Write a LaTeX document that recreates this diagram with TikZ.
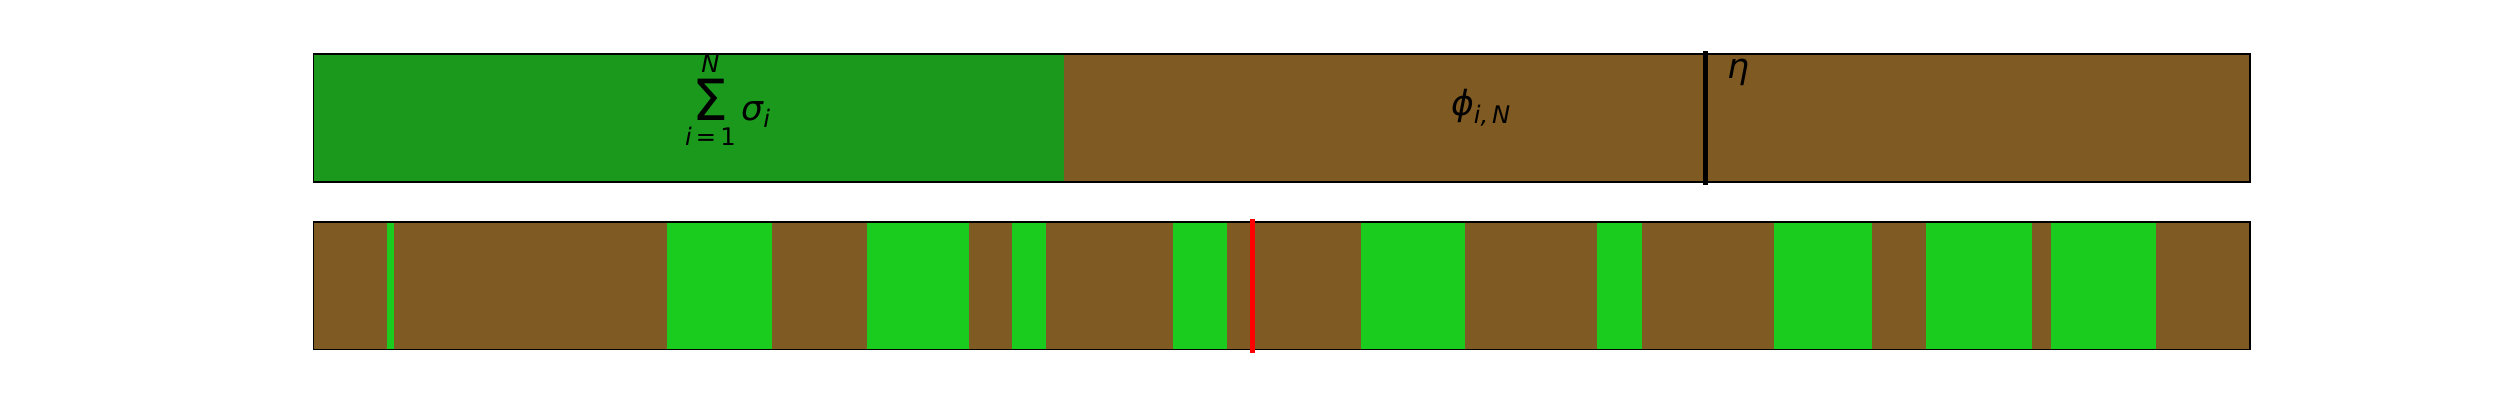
\documentclass[tikz,border=0pt]{standalone}
\usepackage{amsmath}
\usepackage{xcolor}
\usepackage{fontspec}
\usepackage{tikz}

\newfontfamily\plotfont{DejaVu Sans}
\newcommand{\pv}[1]{\text{\plotfont\itshape #1}}

\definecolor{sumgreen}{RGB}{27,153,29}
\definecolor{bitgreen}{RGB}{25,204,29}
\definecolor{soil}{RGB}{127,90,34}

\begin{document}
\begin{tikzpicture}[x = 0.254mm, y = -0.254mm]
\useasboundingbox (0, 0) rectangle (2500, 400);

\begin{scope}[every node/.style={font=\fontsize{25}{30}\selectfont, inner sep=0pt}]
    % top bar
    \fill[sumgreen] (313.5, 54) rectangle (1064, 182);
    \fill[soil] (1064, 54) rectangle (2250, 182);
    \draw[line width=1pt] (313.5, 54) rectangle (2250, 182);
    \node (S) at (728, 100)
        {$\mathop{\text{\fontsize{41}{41}\plotfont Σ}}\limits_{\pv{i}\,\text{\plotfont =\,1}}^{\pv{N}}\pv{σ}_{\pv{i}}$};
    \node (P) at (1481, 108) {$\pv{ϕ}_{\pv{i,\kern0.15em N}}$};
    \node[anchor=base west] (E) at (1727, 79) {$\pv{η}$};
    % bottom bar
    \fill[soil] (313.5, 222) rectangle (2250, 349.3);
    \foreach \a/\b in {387/394, 667/772, 867/969, 1012/1046, 1173/1227,
                       1361/1465, 1597/1642, 1774/1872, 1926/2032, 2051/2156}
        \fill[bitgreen] (\a, 222) rectangle (\b, 349.3);
    \draw[line width=1pt] (313.5, 222) rectangle (2250, 349.3);
\end{scope}

\begin{scope}
    \coordinate (E_top) at (1705, 51.3);
    \coordinate (E_bot) at (1705, 184.7);
    \coordinate (R_top) at (1252, 219);
    \coordinate (R_bot) at (1252, 352.7);
    \draw[line width=3.6pt] (E_top) -- (E_bot);
    \draw[red, line width=3.6pt] (R_top) -- (R_bot);
\end{scope}
\end{tikzpicture}
\end{document}
